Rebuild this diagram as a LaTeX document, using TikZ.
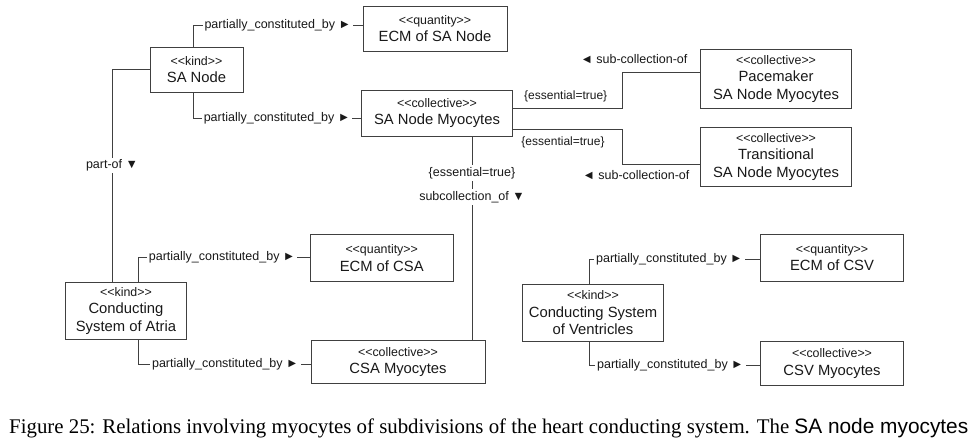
\documentclass[tikz,border=0pt]{standalone}
\usepackage{fontspec}
\setmainfont{Liberation Sans}
\newfontfamily\capfont{Liberation Serif}
\usetikzlibrary{calc}

\newcommand{\stype}[1]{{\fontsize{12.4}{17.5}\selectfont<{}<#1>{}>}}

\begin{document}
\begin{tikzpicture}[x=1pt, y=-1pt,
    box/.style={draw=black!75, line width=1pt, fill=white, align=center, inner sep=0pt,
        font=\fontsize{14.8}{17.5}\selectfont, text=black!90},
    rel/.style={draw=black!75, line width=1pt},
    lbl/.style={fill=white, inner sep=2pt, font=\fontsize{12.5}{15}\selectfont, text=black!90},
    tag/.style={inner sep=0pt, font=\fontsize{12}{14}\selectfont, text=black!90}]

    % Fix the page size
    \useasboundingbox (0,0) rectangle (976,437);

    % Define the boxes
    \node[box, minimum width=93, minimum height=45] (sa) at (196.5,69.5) {\stype{kind}\\SA Node};
    \node[box, minimum width=144, minimum height=45] (ecmsa) at (435,28.5) {\stype{quantity}\\ECM of SA Node};
    \node[box, minimum width=151, minimum height=46] (sam) at (437,113) {\stype{collective}\\SA Node Myocytes};
    \node[box, minimum width=151, minimum height=59] (pace) at (776,78.7) {\stype{collective}\\Pacemaker\\SA Node Myocytes};
    \node[box, minimum width=151, minimum height=59] (trans) at (776,157) {\stype{collective}\\Transitional\\SA Node Myocytes};
    \node[box, minimum width=121, minimum height=57] (csa) at (126,311) {\stype{kind}\\Conducting\\System of Atria};
    \node[box, minimum width=143, minimum height=47] (ecmcsa) at (381.7,258.3) {\stype{quantity}\\ECM of CSA};
    \node[box, minimum width=174, minimum height=43] (csam) at (398,362) {\stype{collective}\\CSA Myocytes};
    \node[box, minimum width=141, minimum height=57] (csv) at (593,313) {\stype{kind}\\Conducting System\\of Ventricles};
    \node[box, minimum width=143, minimum height=47] (ecmcsv) at (832,257.5) {\stype{quantity}\\ECM of CSV};
    \node[box, minimum width=143, minimum height=44] (csvm) at (832,363.7) {\stype{collective}\\CSV Myocytes};

    % --- partially_constituted_by links ---
    \draw[rel] ([xshift=-3.5pt]sa.north) |- node[lbl, pos=0.75] {partially\_constituted\_by ►} ([yshift=3.5pt]ecmsa.west);
    \draw[rel] ([xshift=-3.5pt]sa.south) |- node[lbl, pos=0.75] {partially\_constituted\_by ►} ([yshift=-5pt]sam.west);
    \draw[rel] ([xshift=12pt]csa.north) |- node[lbl, pos=0.745] {partially\_constituted\_by ►} ([yshift=1.3pt]ecmcsa.west);
    \draw[rel] ([xshift=12pt]csa.south) |- node[lbl, pos=0.753] {partially\_constituted\_by ►} ([yshift=-2pt]csam.west);
    \draw[rel] ([xshift=-4pt]csv.north) |- node[lbl, pos=0.735] {partially\_constituted\_by ►} ([yshift=-1.5pt]ecmcsv.west);
    \draw[rel] ([xshift=-4pt]csv.south) |- node[lbl, pos=0.738] {partially\_constituted\_by ►} ([yshift=-1.3pt]csvm.west);

    % --- part-of and sub-collection links ---
    \draw[rel] (sa.west) -| node[lbl, pos=0.726] {part-of ▼} ([xshift=-14pt]csa.north);
    \draw[rel] ([xshift=35pt]sam.south) -- node[lbl, pos=0.18] {\{essential=true\}}
        node[lbl, pos=0.298] {subcollection\_of ▼} ([xshift=74pt]csam.north);
    \draw[rel] ([yshift=5pt]sam.east) -- ++(109,0) |- ([yshift=6.7pt]pace.west);
    \draw[rel] ([yshift=-16pt]sam.east) -- ++(109,0) |- ([yshift=-7pt]trans.west);

    % Labels next to the right-hand links
    \node[tag] (ess1) at (565.7,96.7) {\{essential=true\}};
    \node[tag] (ess2) at (563,142.7) {\{essential=true\}};
    \node[lbl, inner sep=0pt] (sub1) at (634,59.3) {◄ sub-collection-of};
    \node[lbl, inner sep=0pt] (sub2) at (636,174.7) {◄ sub-collection-of};

    % Caption line
    \node[anchor=base west, inner sep=0pt, font=\capfont\fontsize{20.85}{25}\selectfont, text=black] (cap) at (9,433)
        {Figure 25: Relations involving myocytes of subdivisions of the heart conducting system. The {\rmfamily SA node myocytes}};
\end{tikzpicture}
\end{document}
